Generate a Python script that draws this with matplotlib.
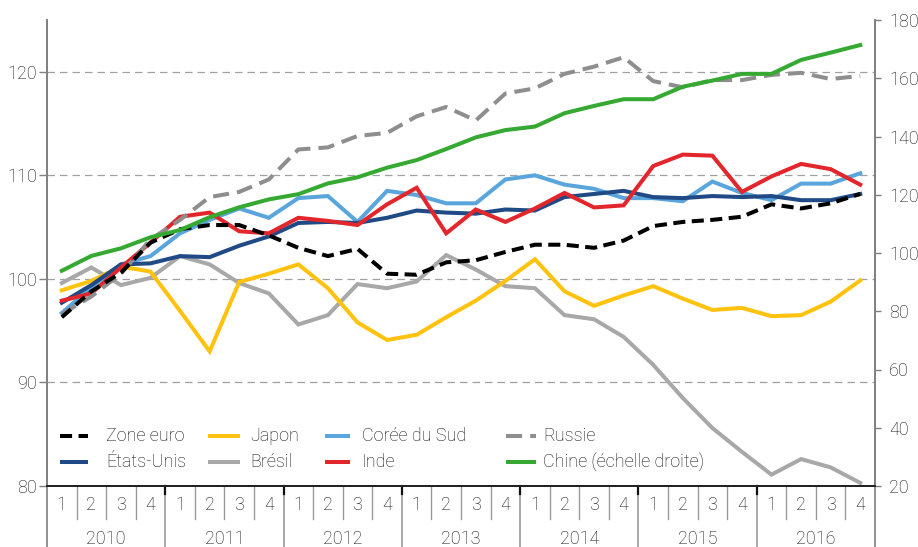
import matplotlib
matplotlib.use("Agg")
import matplotlib.pyplot as plt
import matplotlib.transforms as mtransforms

plt.rcParams['font.family'] = ['Roboto', 'DejaVu Sans']
plt.rcParams['font.weight'] = 'light'

# ---------------- data ----------------
years = ['2010', '2011', '2012', '2013', '2014', '2015', '2016']
quarters = ['1', '2', '3', '4']

zone_euro = [96.3, 98.8, 100.6, 103.5, 104.8, 105.2, 105.2, 104.2, 103.0, 102.2,
             102.9, 100.5, 100.4, 101.6, 101.8, 102.6, 103.3, 103.3, 103.0, 103.7,
             105.1, 105.5, 105.7, 106.0, 107.2, 106.8, 107.3, 108.2]
etats_unis = [97.7, 99.4, 101.4, 101.5, 102.2, 102.1, 103.2, 104.1, 105.4, 105.5,
              105.4, 105.9, 106.6, 106.4, 106.3, 106.7, 106.6, 107.9, 108.2, 108.5,
              107.9, 107.8, 108.0, 107.9, 108.0, 107.6, 107.6, 108.2]
coree = [96.7, 99.2, 101.4, 102.2, 104.4, 105.7, 106.8, 105.9, 107.8, 108.0,
         105.5, 108.5, 108.1, 107.3, 107.3, 109.6, 110.0, 109.1, 108.7, 107.8,
         107.8, 107.5, 109.4, 108.3, 107.6, 109.2, 109.2, 110.2]
inde = [97.9, 98.6, 101.1, 103.5, 106.0, 106.4, 104.6, 104.4, 105.9, 105.6,
        105.2, 107.2, 108.8, 104.4, 106.7, 105.5, 106.8, 108.3, 106.9, 107.1,
        110.9, 112.0, 111.9, 108.4, 109.9, 111.1, 110.6, 109.1]
japon = [98.9, 99.8, 101.2, 100.7, 96.9, 93.0, 99.7, 100.5, 101.4, 99.1,
         95.8, 94.1, 94.6, 96.3, 97.9, 99.8, 101.9, 98.8, 97.4, 98.4,
         99.3, 98.1, 97.0, 97.2, 96.4, 96.5, 97.8, 99.85]
bresil = [99.6, 101.1, 99.4, 100.1, 102.2, 101.4, 99.6, 98.6, 95.6, 96.5,
          99.5, 99.1, 99.75, 102.3, 100.9, 99.3, 99.1, 96.5, 96.1, 94.4,
          91.7, 88.5, 85.6, 83.3, 81.1, 82.6, 81.8, 80.3]
russie = [96.6, 98.3, 100.5, 103.8, 105.7, 107.9, 108.4, 109.6, 112.5, 112.7,
          113.8, 114.1, 115.7, 116.6, 115.3, 117.9, 118.4, 119.8, 120.5, 121.4,
          119.1, 118.5, 119.2, 119.2, 119.7, 119.9, 119.3, 119.6]
chine = [93.9, 99.0, 101.6, 105.4, 107.9, 112.3, 115.7, 118.4, 120.2, 123.9,
         126.0, 129.3, 131.9, 135.7, 139.7, 142.2, 143.4, 148.0, 150.5, 152.8,
         152.8, 157.1, 159.2, 161.5, 161.5, 166.3, 168.8, 171.4]

left_ticks = [80, 90, 100, 110, 120]
right_ticks = [20, 40, 60, 80, 100, 120, 140, 160, 180]

# ---------------- styles ----------------
C_EURO = '#000000'
C_US = '#1F4A85'
C_KR = '#5AA5DC'
C_IN = '#E2262B'
C_JP = '#FFC20E'
C_BR = '#A8A8A8'
C_RU = '#8E8E8E'
C_CN = '#36A933'
LW = 2.9
TXT = '#111111'
FS = 13

fig = plt.figure(figsize=(9.18, 5.47), dpi=100)
ax = fig.add_axes([47 / 918, 61 / 547, 828 / 918, 466 / 547])
ax2 = ax.twinx()

n = len(zone_euro)
x = list(range(n))

ax.plot(x, bresil, color=C_BR, lw=LW, solid_joinstyle='miter', zorder=3)
ax.plot(x, japon, color=C_JP, lw=LW, solid_joinstyle='miter', zorder=3)
ax.plot(x, coree, color=C_KR, lw=LW, solid_joinstyle='miter', zorder=3)
ax.plot(x, etats_unis, color=C_US, lw=LW, solid_joinstyle='miter', zorder=3)
ax.plot(x, inde, color=C_IN, lw=LW, solid_joinstyle='miter', zorder=3)
ax.plot(x, russie, color=C_RU, lw=LW, dashes=(4, 2), zorder=3)
ax.plot(x, zone_euro, color=C_EURO, lw=LW, dashes=(3, 1.6), zorder=3)
ax2.plot(x, chine, color=C_CN, lw=LW, solid_joinstyle='miter', zorder=3)

ax.set_xlim(-0.5, n - 0.5)
ax.set_ylim(80, 125)
ax2.set_ylim(20, 180)

ax.set_yticks(left_ticks)
ax.set_yticklabels([str(v) for v in left_ticks])
ax2.set_yticks(right_ticks)
ax2.set_yticklabels([str(v) for v in right_ticks])

ax.yaxis.grid(True, linestyle=(0, (6, 4)), color='#A0A0A0', lw=0.9)
ax.set_axisbelow(True)

ax.tick_params(axis='y', direction='out', length=5.5, width=1, color='#7F7F7F',
               labelsize=FS, labelcolor=TXT, pad=1.5)
ax2.tick_params(axis='y', direction='out', length=4, width=1, color='#7F7F7F',
                labelsize=FS, labelcolor=TXT, pad=6)
ax.set_xticks([])

for a in (ax, ax2):
    a.spines['top'].set_visible(False)
    a.spines['left'].set_color('#7F7F7F')
    a.spines['right'].set_color('#7F7F7F')
    a.spines['left'].set_linewidth(1.2)
    a.spines['right'].set_linewidth(1.2)
    a.spines['bottom'].set_color('#222222')
    a.spines['bottom'].set_linewidth(1.4)

# category axis: quarters and years
trans = mtransforms.blended_transform_factory(ax.transData, ax.transAxes)
q_drop = 33 / 466
y_drop = 61 / 466
for i in range(n):
    ax.text(i, -19 / 466, quarters[i % 4], transform=trans, ha='center', va='center',
            fontsize=FS, color=TXT)
for i in range(1, n):
    xb = i - 0.5
    if i % 4 == 0:
        ax.plot([xb, xb], [0, -y_drop], transform=trans, color='#9A9A9A', lw=1.2,
                clip_on=False)
        ax.plot([xb, xb], [0, -8 / 466], transform=trans, color='#111111', lw=1.6,
                clip_on=False)
    else:
        ax.plot([xb, xb], [0, -q_drop], transform=trans, color='#9A9A9A', lw=1.0,
                clip_on=False)
for xb in (-0.5, n - 0.5):
    ax.plot([xb, xb], [0, -y_drop], transform=trans, color='#7F7F7F', lw=1.2,
            clip_on=False)
for k, yr in enumerate(years):
    ax.text(4 * k + 1.5, -53 / 466, yr, transform=trans, ha='center', va='center',
            fontsize=FS, color=TXT)

# legend (manual layout)
legend_items = [
    ('Zone euro', C_EURO, (3, 1.6)), ('Japon', C_JP, None),
    ('Corée du Sud', C_KR, None), ('Russie', C_RU, (4, 2)),
    ('États-Unis', C_US, None), ('Brésil', C_BR, None),
    ('Inde', C_IN, None), ('Chine (échelle droite)', C_CN, None),
]
col_handle = [(0.0157, 0.0495, 0.0713), (0.1944, 0.2331, 0.2452),
              (0.3357, 0.3659, 0.3804), (0.5543, 0.5906, 0.5990)]
row_y = [0.1073, 0.0515]
for k, (lab, col, ds) in enumerate(legend_items):
    r, c = divmod(k, 4)
    x0, x1, xt = col_handle[c]
    kw = dict(transform=ax.transAxes, color=col, lw=LW, clip_on=False, zorder=5)
    if ds is not None:
        kw['dashes'] = ds
    else:
        kw['solid_capstyle'] = 'butt'
    ax.plot([x0, x1], [row_y[r], row_y[r]], **kw)
    ax.text(xt, row_y[r], lab, transform=ax.transAxes, ha='left', va='center',
            fontsize=FS, color=TXT)

fig.savefig('out.png', dpi=100, facecolor='white')
